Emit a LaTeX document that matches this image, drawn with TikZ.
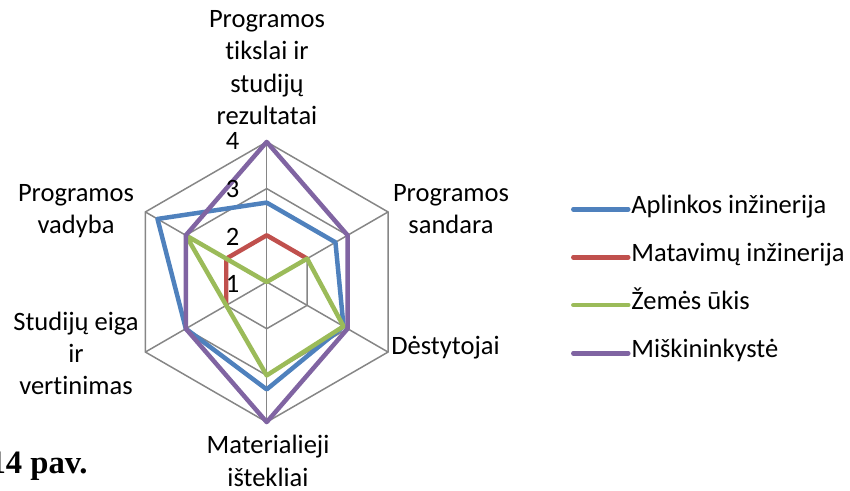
\documentclass[tikz,border=0pt]{standalone}
\usepackage{fontspec}
\setmainfont{Carlito}[Ligatures=NoCommon]
\newfontfamily\capfont{Liberation Serif}
\definecolor{aplblue}{HTML}{4F81BD}
\definecolor{matred}{HTML}{C0504D}
\definecolor{zemgreen}{HTML}{9BBB59}
\definecolor{miskviolet}{HTML}{8064A2}
\definecolor{gridgray}{HTML}{868686}
\tikzset{
  gridline/.style={draw=gridgray, line width=0.85pt},
  pen/.style={line width=2.55pt, line join=round, line cap=round},
  aplpen/.style={pen, draw=aplblue},
  matpen/.style={pen, draw=matred},
  zempen/.style={pen, draw=zemgreen},
  miskpen/.style={pen, draw=miskviolet},
  axislab/.style={inner sep=0pt, align=center},
  legtext/.style={inner sep=0pt, anchor=west, text height=0.75em, text depth=0.25em},
}
\begin{document}
\begin{tikzpicture}[x=0.02cm, y=0.02cm, font=\fontsize{15.1}{18.4}\selectfont]
\def\rad{46.7}
\useasboundingbox (0,0) rectangle (850,491);
\begin{scope}[shift={(266.7,209)}]
    % hexagon rings and spokes
    \foreach \r in {1,2,3}
        \draw[gridline] (90:{\r*\rad}) \foreach \a in {30,-30,-90,-150,-210} {-- (\a:{\r*\rad})} -- cycle;
    \foreach \a in {90,30,-30,-90,-150,-210}
        \draw[gridline] (0,0) -- (\a:{3*\rad});
    % series
    \draw[aplpen] (90:{1.7*\rad}) -- (30:{1.7*\rad}) -- (-30:{1.9*\rad}) -- (-90:{2.3*\rad}) -- (-150:{2*\rad}) -- (150:{2.7*\rad}) -- cycle;
    \draw[matpen] (30:\rad) -- (90:\rad) -- (150:\rad) -- (-150:\rad);
    \draw[zempen] (90:0) -- (30:\rad) -- (-30:{1.9*\rad}) -- (-90:{2*\rad}) -- (-150:\rad) -- (150:{2*\rad}) -- cycle;
    \draw[miskpen] (90:{3*\rad}) -- (30:{2*\rad}) -- (-30:{2*\rad}) -- (-90:{3*\rad}) -- (-150:{2*\rad}) -- (150:{2*\rad}) -- cycle;
\end{scope}
% scale values
\foreach \v in {1,2,3,4}
    \node[inner sep=0pt] (tick\v) at (232.5, {207+47.6*(\v-1)}) {\v};
% category labels
\node[axislab, anchor=north] (tikslai) at (267,480.8) {Programos\\tikslai ir\\studijų\\rezultatai};
\node[axislab, anchor=north] (sandara) at (451,307.2) {Programos\\sandara};
\node[axislab, anchor=base west] (destytojai) at (391,136) {Dėstytojai};
\node[axislab, anchor=north] (materialieji) at (268,55.8) {Materialieji\\ištekliai};
\node[axislab, anchor=north] (eiga) at (76,179.5) {Studijų eiga\\ir\\vertinimas};
\node[axislab, anchor=north] (vadyba) at (76,307.2) {Programos\\vadyba};
% legend
\node[legtext] (lapl) at (631,281.7) {Aplinkos inžinerija};
\node[legtext] (lmat) at (631,233.7) {Matavimų inžinerija};
\node[legtext] (lzem) at (631,186) {Žemės ūkis};
\node[legtext] (lmisk) at (631,137.7) {Miškininkystė};
\draw[aplpen] (lapl.west) ++(-57.7,0) -- ++(55,0);
\draw[matpen] (lmat.west) ++(-57.7,0) -- ++(55,0);
\draw[zempen] (lzem.west) ++(-57.7,0) -- ++(55,0);
\draw[miskpen] (lmisk.west) ++(-57.7,0) -- ++(55,0);
% caption
\node[inner sep=0pt, anchor=base east, font=\capfont\bfseries\fontsize{18.6}{21}\selectfont] (caption) at (88,17) {14 pav.};
\end{tikzpicture}
\end{document}
